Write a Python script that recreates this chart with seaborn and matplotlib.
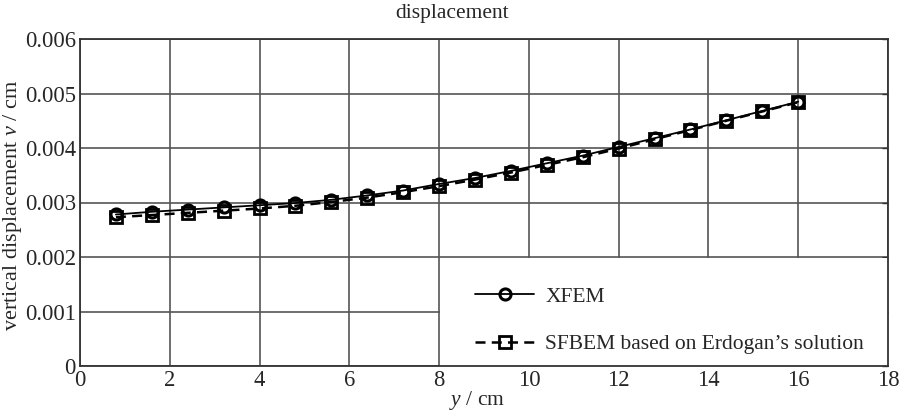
import matplotlib
matplotlib.use("Agg")
import matplotlib.pyplot as plt
from matplotlib.patches import Rectangle
import seaborn as sns
import pandas as pd

y_cm = [0.8, 1.6, 2.4, 3.2, 4.0, 4.8, 5.6, 6.4, 7.2, 8.0,
        8.8, 9.6, 10.4, 11.2, 12.0, 12.8, 13.6, 14.4, 15.2, 16.0]
xfem = [0.00278, 0.00283, 0.00287, 0.00291, 0.00295, 0.00299, 0.00305, 0.00313, 0.00322, 0.00334,
        0.00345, 0.00358, 0.00372, 0.00386, 0.00402, 0.00418, 0.00434, 0.00451, 0.00468, 0.00485]
sfbem = [0.00273, 0.00277, 0.00281, 0.00285, 0.00289, 0.00294, 0.00301, 0.00309, 0.00319, 0.00330,
         0.00342, 0.00355, 0.00369, 0.00383, 0.00399, 0.00416, 0.00433, 0.00450, 0.00467, 0.00484]
labels = ["XFEM", "SFBEM based on Erdogan\u2019s solution"]
x_ticks = [0, 2, 4, 6, 8, 10, 12, 14, 16, 18]
y_ticks = [0, 0.001, 0.002, 0.003, 0.004, 0.005, 0.006]
y_tick_labels = ["0", "0.001", "0.002", "0.003", "0.004", "0.005", "0.006"]

sns.set_style("white")
plt.rcParams["font.family"] = ["Liberation Serif", "DejaVu Serif"]
plt.rcParams["mathtext.fontset"] = "custom"
plt.rcParams["mathtext.it"] = "Liberation Serif:italic"
plt.rcParams["mathtext.rm"] = "Liberation Serif"

FS = 16.3

fig = plt.figure(figsize=(9.04, 4.12), dpi=100)
ax = fig.add_axes([80 / 904, 46 / 412, 808 / 904, 327 / 412])

df1 = pd.DataFrame({"y": y_cm, "v": xfem})
df2 = pd.DataFrame({"y": y_cm, "v": sfbem})
sns.lineplot(data=df1, x="y", y="v", ax=ax, color="black", lw=1.3,
             marker="o", markersize=8, markerfacecolor="none",
             markeredgecolor="black", markeredgewidth=2.2, label=labels[0], zorder=3)
sns.lineplot(data=df2, x="y", y="v", ax=ax, color="black", lw=1.8, linestyle=(0, (4, 2.5)),
             marker="s", markersize=9, markerfacecolor="none",
             markeredgecolor="black", markeredgewidth=2.0, label=labels[1], zorder=3)

ax.set_xlim(0, 18)
ax.set_ylim(0, 0.006)
ax.set_xticks(x_ticks)
ax.set_yticks(y_ticks)
ax.set_yticklabels(y_tick_labels)
ax.grid(True, color="#555555", lw=1.2)
ax.set_axisbelow(True)
for s in ax.spines.values():
    s.set_color("#333333")
    s.set_linewidth(1.3)
ax.tick_params(direction="in", length=4, width=1, color="#333333",
               labelsize=FS, pad=3, top=False, right=True)

# white legend area covering grid
ax.add_patch(Rectangle((0.4455, 0.0), 0.5545, 0.329, transform=ax.transAxes,
                       facecolor="white", edgecolor="none", zorder=1))

ax.set_xlabel("$y$ / cm", fontsize=15.5)
ax.xaxis.set_label_coords(0.491, -0.070)
ax.set_ylabel("vertical displacement $v$ / cm", fontsize=16)
ax.yaxis.set_label_coords(-0.069, 0.49)
ax.text(0.46, 1.049, "displacement", transform=ax.transAxes, ha="center",
        va="bottom", fontsize=15.5)

leg = ax.legend(loc="upper left", bbox_to_anchor=(0.489, 0.2425), borderaxespad=0,
                frameon=False, fontsize=15.5, handlelength=2.75,
                labelspacing=1.28, borderpad=0, handletextpad=0.5)

fig.savefig("out.png", dpi=100)
